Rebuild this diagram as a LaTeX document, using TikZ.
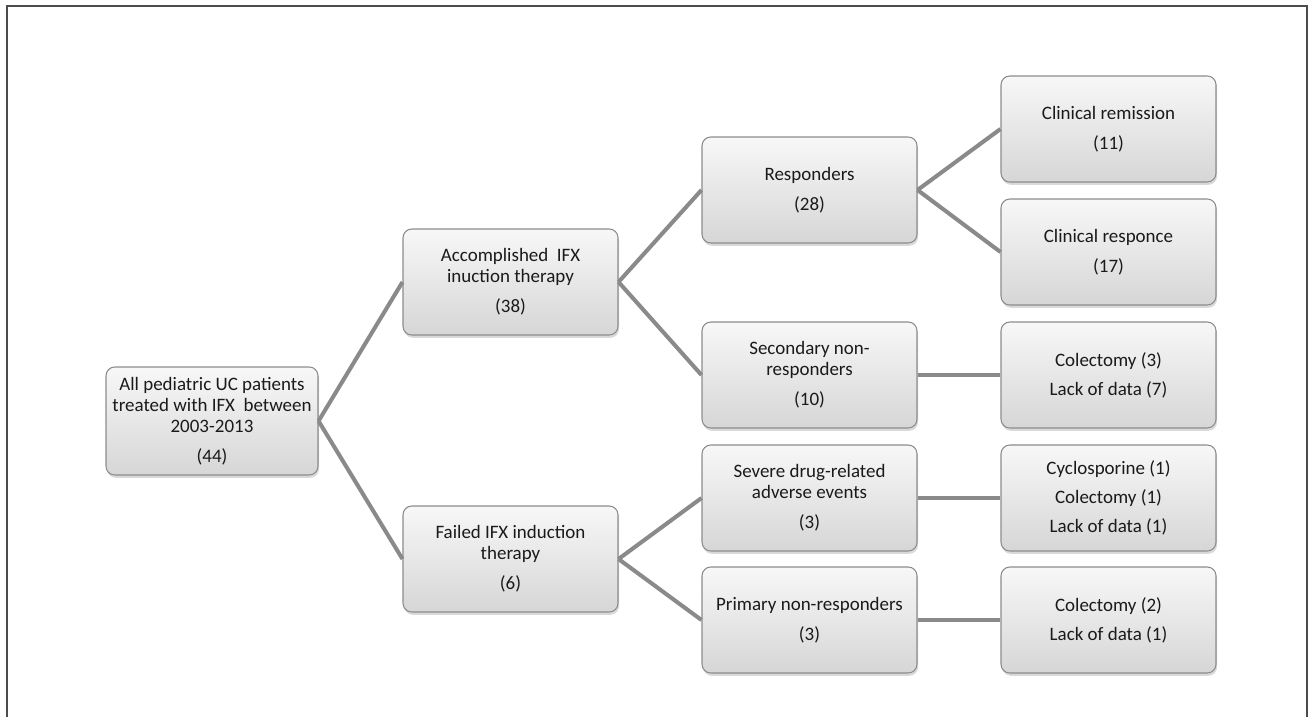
\documentclass[tikz,border=0pt]{standalone}
\usepackage{fontspec}
\setmainfont{Carlito}
\usepackage{tikz}
\usetikzlibrary{shadows}

\definecolor{linkgray}{HTML}{8A8A8A}
\definecolor{boxedge}{HTML}{8C8C8C}
\definecolor{textgray}{HTML}{1A1A1A}

\begin{document}
\begin{tikzpicture}[
	stagebox/.style={rectangle, rounded corners=5pt, draw=boxedge, line width=0.6pt,
		top color=gray!6, bottom color=gray!32, text=textgray,
		minimum width=4.3cm, minimum height=2.12cm, align=center,
		font=\fontsize{10.8}{11.9}\selectfont,
		drop shadow={shadow xshift=0.6pt, shadow yshift=-1.6pt, opacity=0.3}},
	link/.style={draw=linkgray, line width=2.3pt}]
			\useasboundingbox (0, 0) rectangle (26.28, -14.34);
			\draw [line width=1pt, draw=black!70](0.14, -14.34) -- (0.14, -0.12) -- (26.14, -0.12) -- (26.14, -14.34);
			% first and second level
			\node at (4.24, -8.42) [stagebox, minimum width=4.24cm, minimum height=2.16cm] (all) {All pediatric UC patients\\treated with IFX\ \ between\\2003-2013\\[5pt](44)};
			\node at (10.21, -5.64) [stagebox] (accomplished) {Accomplished\ \ IFX\\inuction therapy\\[5pt](38)};
			\node at (10.21, -11.18) [stagebox] (failed) {Failed IFX induction\\therapy\\[5pt](6)};
			% third level
			\node at (16.19, -3.80) [stagebox] (responders) {Responders\\[5pt](28)};
			\node at (16.19, -7.50) [stagebox] (secondary) {Secondary non-\\responders\\[5pt](10)};
			\node at (16.19, -9.96) [stagebox] (severe) {Severe drug-related\\adverse events\\[5pt](3)};
			\node at (16.19, -12.40) [stagebox] (primary) {Primary non-responders\\[5pt](3)};
			% outcomes
			\node at (22.17, -2.58) [stagebox] (remission) {Clinical remission\\[5pt](11)};
			\node at (22.17, -5.04) [stagebox] (response) {Clinical responce\\[5pt](17)};
			\node at (22.17, -7.50) [stagebox] (secout) {Colectomy (3)\\[4.5pt]Lack of data (7)};
			\node at (22.17, -9.96) [stagebox] (sevout) {Cyclosporine (1)\\[4.5pt]Colectomy (1)\\[4.5pt]Lack of data (1)};
			\node at (22.17, -12.40) [stagebox] (primout) {Colectomy (2)\\[4.5pt]Lack of data (1)};
			\draw [link](all.east) -- (accomplished.west);
			\draw [link](all.east) -- (failed.west);
			\draw [link](accomplished.east) -- (responders.west);
			\draw [link](accomplished.east) -- (secondary.west);
			\draw [link](failed.east) -- (severe.west);
			\draw [link](failed.east) -- (primary.west);
			\draw [link](responders.east) -- (remission.west);
			\draw [link](responders.east) -- (response.west);
			\draw [link](secondary.east) -- (secout.west);
			\draw [link](severe.east) -- (sevout.west);
			\draw [link](primary.east) -- (primout.west);
		\end{tikzpicture}
\end{document}
